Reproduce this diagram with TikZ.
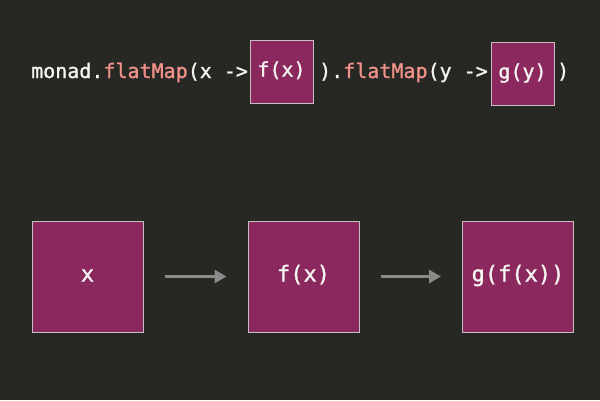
\documentclass[tikz,border=0pt]{standalone}
\usepackage{fontspec}
\setmonofont[FakeBold=1.2]{DejaVu Sans Mono}
\usetikzlibrary{arrows.meta}
\definecolor{bg}{HTML}{272724}
\definecolor{boxfill}{HTML}{8B285E}
\definecolor{boxline}{HTML}{C4C0C2}
\definecolor{codefg}{HTML}{F4F4F0}
\definecolor{method}{HTML}{F0928A}
\definecolor{arrowgray}{HTML}{8A8A88}
\tikzset{
  code/.style={font=\ttfamily\fontsize{20}{24}\selectfont, text=codefg, inner sep=0pt, anchor=base west},
  smallbox/.style={draw=boxline, line width=1pt, fill=boxfill, minimum width=63pt, minimum height=63pt,
    inner sep=0pt, font=\ttfamily\fontsize{20}{24}\selectfont, text=codefg, text height=14pt, text depth=4pt},
  bigbox/.style={draw=boxline, line width=1pt, fill=boxfill, minimum width=111pt, minimum height=111pt,
    inner sep=0pt, font=\ttfamily\fontsize{22}{26}\selectfont, text=codefg, text height=15pt, text depth=5pt},
  flow/.style={draw=arrowgray, line width=3pt, -{Triangle[length=12pt,width=13pt]}, shorten <=21pt, shorten >=21pt}
}
\begin{document}
\begin{tikzpicture}[x=1pt,y=-1pt]
  \fill[bg] (0,0) rectangle (600,400);
  \useasboundingbox (0,0) rectangle (600,400);

  % the chained call
  \node[code] (head) at (31,78) {monad.{\color{method}flatMap}(x ->};
  \node[smallbox] (fbox) at (281.5,71.5) {f(x)};
  \node[code] (mid) at (319,78) {).{\color{method}flatMap}(y ->};
  \node[smallbox] (gbox) at (522.5,73.5) {g(y)};
  \node[code] (tail) at (557,78) {)};

  % the values flowing through the chain
  \node[bigbox] (x) at (87.5,276.5) {x};
  \node[bigbox] (fx) at (303.5,276.5) {f(x)};
  \node[bigbox] (gfx) at (518,276.5) {g(f(x))};

  \draw[flow] (x.east) -- (fx.west);
  \draw[flow] (fx.east) -- (gfx.west);
\end{tikzpicture}
\end{document}
